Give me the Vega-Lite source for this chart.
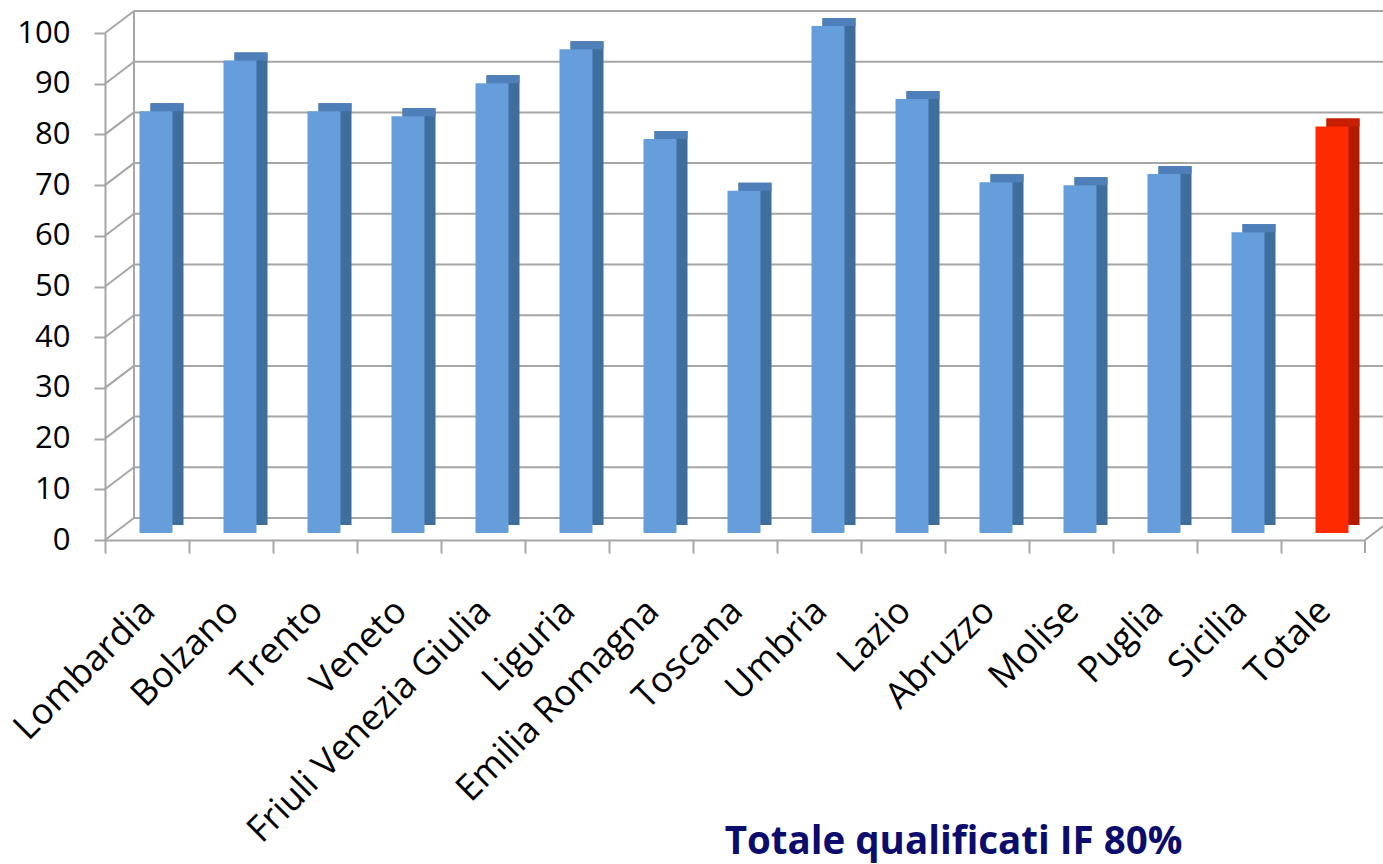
{
  "$schema": "https://vega.github.io/schema/vega-lite/v6.json",
  "width": 1260,
  "height": 507,
  "autosize": {"type": "none"},
  "padding": {"left": 105, "top": 33, "right": 18, "bottom": 324},
  "background": "white",
  "datasets": {
    "regioni": [
      {"regione": "Lombardia", "valore": 83.2},
      {"regione": "Bolzano", "valore": 93.2},
      {"regione": "Trento", "valore": 83.2},
      {"regione": "Veneto", "valore": 82.2},
      {"regione": "Friuli Venezia Giulia", "valore": 88.7},
      {"regione": "Liguria", "valore": 95.4},
      {"regione": "Emilia Romagna", "valore": 77.7},
      {"regione": "Toscana", "valore": 67.5},
      {"regione": "Umbria", "valore": 100},
      {"regione": "Lazio", "valore": 85.6},
      {"regione": "Abruzzo", "valore": 69.2},
      {"regione": "Molise", "valore": 68.6},
      {"regione": "Puglia", "valore": 70.8},
      {"regione": "Sicilia", "valore": 59.3},
      {"regione": "Totale", "valore": 80.2}
    ],
    "griglia": [
      {"v": 0}, {"v": 10}, {"v": 20}, {"v": 30}, {"v": 40}, {"v": 50},
      {"v": 60}, {"v": 70}, {"v": 80}, {"v": 90}, {"v": 100}
    ],
    "bordo": [{"parte": "parete"}]
  },
  "config": {
    "view": {"stroke": null},
    "axis": {"grid": false},
    "axisY": {
      "domainColor": "#a6a6a6", "domainWidth": 2,
      "tickColor": "#a6a6a6", "tickWidth": 2, "tickSize": 11,
      "labelFont": "Open Sans", "labelFontSize": 31, "labelColor": "#000000",
      "labelPadding": 24, "tickCount": 10
    },
    "axisX": {
      "domainColor": "#a6a6a6", "domainWidth": 2,
      "tickColor": "#a6a6a6", "tickWidth": 2, "tickSize": 13,
      "bandPosition": 0, "labelOffset": 2,
      "labelFont": "Open Sans", "labelFontSize": 36, "labelColor": "#000000",
      "labelAngle": -45, "labelAlign": "right", "labelBaseline": "middle",
      "labelPadding": 52, "labelLimit": 600,
      "titleFont": "Open Sans", "titleFontSize": 38.5, "titleFontWeight": "bold",
      "titleColor": "#0c0c6c", "titleX": 848, "titleY": 313,
      "titleAlign": "center", "titleBaseline": "alphabetic", "titleAngle": 0
    }
  },
  "layer": [
    {
      "data": {"name": "griglia"},
      "mark": {"type": "rule", "color": "#a6a6a6", "strokeWidth": 2, "xOffset": 29, "x2Offset": 29, "yOffset": -22},
      "encoding": {
        "x": {"datum": "Lombardia", "type": "nominal", "bandPosition": 0, "scale": {"domain": ["Lombardia","Bolzano","Trento","Veneto","Friuli Venezia Giulia","Liguria","Emilia Romagna","Toscana","Umbria","Lazio","Abruzzo","Molise","Puglia","Sicilia","Totale"], "paddingInner": 0, "paddingOuter": 0}, "title": "Totale qualificati IF 80%"},
        "x2": {"datum": "Totale", "bandPosition": 1},
        "y": {"field": "v", "type": "quantitative", "scale": {"domain": [0, 100], "nice": false}, "title": null}
      }
    },
    {
      "data": {"name": "griglia"},
      "mark": {"type": "rule", "color": "#a6a6a6", "strokeWidth": 2, "x2Offset": 29, "y2Offset": -22},
      "encoding": {
        "x": {"datum": "Lombardia", "type": "nominal", "bandPosition": 0, "title": "Totale qualificati IF 80%"},
        "x2": {"datum": "Lombardia", "bandPosition": 0},
        "y": {"field": "v", "type": "quantitative", "title": null},
        "y2": {"field": "v"}
      }
    },
    {
      "data": {"name": "bordo"},
      "mark": {"type": "rule", "color": "#a6a6a6", "strokeWidth": 2, "xOffset": 29, "yOffset": -22, "y2Offset": -22},
      "encoding": {
        "x": {"datum": "Lombardia", "type": "nominal", "bandPosition": 0, "title": "Totale qualificati IF 80%"},
        "y": {"datum": 0, "type": "quantitative", "title": null},
        "y2": {"datum": 100}
      }
    },
    {
      "data": {"name": "bordo"},
      "mark": {"type": "rule", "color": "#a6a6a6", "strokeWidth": 2, "x2Offset": 29, "y2Offset": -22},
      "encoding": {
        "x": {"datum": "Totale", "type": "nominal", "bandPosition": 1, "title": "Totale qualificati IF 80%"},
        "x2": {"datum": "Totale", "bandPosition": 1},
        "y": {"datum": 0, "type": "quantitative", "title": null},
        "y2": {"datum": 0}
      }
    },
    {
      "data": {"name": "bordo"},
      "mark": {"type": "rule", "color": "#a6a6a6", "strokeWidth": 2, "y2Offset": 13},
      "encoding": {
        "x": {"datum": "Totale", "type": "nominal", "bandPosition": 1, "title": "Totale qualificati IF 80%"},
        "y": {"datum": 0, "type": "quantitative", "title": null},
        "y2": {"datum": 0}
      }
    },
    {
      "data": {"name": "regioni"},
      "mark": {"type": "bar", "width": 33, "xOffset": 20, "yOffset": -15, "y2Offset": -8},
      "encoding": {
        "x": {"field": "regione", "type": "nominal", "sort": null, "title": "Totale qualificati IF 80%"},
        "y": {"field": "valore", "type": "quantitative", "title": null},
        "color": {"condition": {"test": "datum.regione === 'Totale'", "value": "#B01A00"}, "value": "#3F6D9C"}
      }
    },
    {
      "data": {"name": "regioni"},
      "mark": {"type": "bar", "width": 33, "xOffset": 20, "yOffset": -15, "y2Offset": -7},
      "encoding": {
        "x": {"field": "regione", "type": "nominal", "sort": null, "title": "Totale qualificati IF 80%"},
        "y": {"field": "valore", "type": "quantitative", "title": null},
        "y2": {"field": "valore"},
        "color": {"condition": {"test": "datum.regione === 'Totale'", "value": "#C81E00"}, "value": "#4E7FB9"}
      }
    },
    {
      "data": {"name": "regioni"},
      "mark": {"type": "bar", "width": 33, "xOffset": 9, "yOffset": -7, "y2Offset": -7},
      "encoding": {
        "x": {"field": "regione", "type": "nominal", "sort": null, "title": "Totale qualificati IF 80%"},
        "y": {"field": "valore", "type": "quantitative", "title": null},
        "color": {"condition": {"test": "datum.regione === 'Totale'", "value": "#FF2A00"}, "value": "#659EDB"}
      }
    }
  ]
}
